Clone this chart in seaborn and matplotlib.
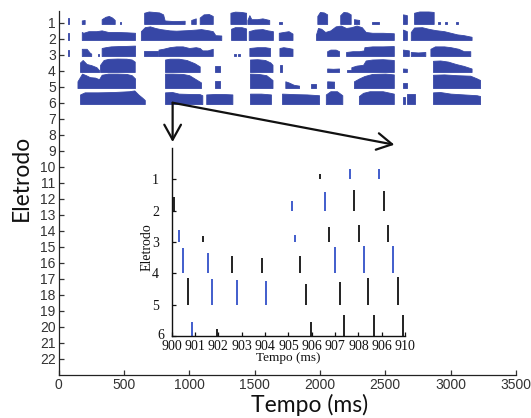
import matplotlib
matplotlib.use("Agg")
import matplotlib.pyplot as plt
import matplotlib.transforms as mtransforms
import numpy as np
import seaborn as sns

# envelope of the spike raster per electrode: segments of (time ms, height in row units)
row1 = [
    [(70, 0.35), (82, 0.35)],
    [(178, 0.22), (200, 0.25)],
    [(330, 0.3), (360, 0.45), (385, 0.5), (410, 0.4), (430, 0.25)],
    [(470, 0.1), (480, 0.1)],
    [(655, 0.7), (690, 0.78), (730, 0.75), (770, 0.72), (800, 0.6), (812, 0.22), (880, 0.18), (965, 0.2)],
    [(1015, 0.25), (1050, 0.35)],
    [(1080, 0.4), (1110, 0.6), (1150, 0.62), (1180, 0.5)],
    [(1315, 0.7), (1350, 0.77), (1400, 0.75), (1435, 0.7)],
    [(1445, 0.25), (1460, 0.55), (1475, 0.3), (1520, 0.3), (1560, 0.35), (1612, 0.25)],
    [(1690, 0.15), (1710, 0.15)],
    [(1980, 0.5), (2000, 0.75), (2030, 0.72), (2055, 0.6)],
    [(2155, 0.55), (2180, 0.75), (2210, 0.72), (2235, 0.6)],
    [(2260, 0.3), (2300, 0.25)],
    [(2400, 0.12), (2450, 0.12)],
    [(2635, 0.6), (2665, 0.55)],
    [(2720, 0.7), (2760, 0.78), (2830, 0.78), (2870, 0.75)],
    [(2900, 0.12), (2915, 0.12)],
    [(2960, 0.1), (2975, 0.1)],
    [(3040, 0.1), (3055, 0.1)],
]
row2 = [
    [(70, 0.45), (82, 0.45)],
    [(178, 0.5), (190, 0.45), (230, 0.55), (290, 0.55), (330, 0.6), (380, 0.5), (450, 0.5), (520, 0.48), (585, 0.45)],
    [(630, 0.55), (660, 0.8), (700, 0.85), (740, 0.75), (780, 0.68), (850, 0.6), (900, 0.58), (950, 0.6),
     (1000, 0.62), (1050, 0.65), (1090, 0.68), (1150, 0.6), (1180, 0.55), (1200, 0.3), (1245, 0.28)],
    [(1320, 0.7), (1350, 0.8), (1400, 0.8), (1435, 0.72)],
    [(1455, 0.55), (1500, 0.65), (1560, 0.68), (1600, 0.6), (1640, 0.55)],
    [(1685, 0.45), (1720, 0.5), (1760, 0.55), (1790, 0.4)],
    [(1970, 0.35), (1985, 0.75), (2010, 0.7), (2040, 0.5), (2080, 0.6), (2120, 0.85), (2160, 0.9), (2200, 0.75),
     (2240, 0.8), (2280, 0.9), (2320, 0.8), (2350, 0.5), (2400, 0.45), (2480, 0.45), (2565, 0.42)],
    [(2635, 0.65), (2665, 0.55)],
    [(2695, 0.5), (2720, 0.78), (2780, 0.8), (2830, 0.7), (2880, 0.62), (2950, 0.55), (3000, 0.45),
     (3050, 0.35), (3100, 0.3), (3160, 0.2)],
]
row3 = [
    [(70, 0.35), (82, 0.35)],
    [(178, 0.45), (215, 0.45), (240, 0.2), (250, 0.15)],
    [(300, 0.1), (310, 0.1)],
    [(330, 0.5), (360, 0.55), (400, 0.6), (460, 0.62), (520, 0.63), (585, 0.65)],
    [(655, 0.3), (700, 0.3), (760, 0.3)],
    [(765, 0.4), (800, 0.45), (850, 0.55), (900, 0.6), (950, 0.6), (1000, 0.5), (1050, 0.55), (1080, 0.5),
     (1100, 0.35), (1140, 0.35), (1180, 0.45)],
    [(1345, 0.1), (1355, 0.1)],
    [(1375, 0.1), (1385, 0.1)],
    [(1460, 0.5), (1520, 0.55), (1580, 0.55), (1618, 0.5)],
    [(1690, 0.5), (1720, 0.55), (1760, 0.5), (1790, 0.45)],
    [(2055, 0.3), (2080, 0.4), (2120, 0.4), (2146, 0.3)],
    [(2200, 0.25), (2250, 0.3), (2300, 0.3), (2336, 0.35), (2340, 0.55), (2400, 0.6), (2480, 0.6), (2565, 0.62)],
    [(2635, 0.4), (2680, 0.35)],
    [(2695, 0.25), (2750, 0.22), (2806, 0.25)],
    [(2845, 0.45), (2880, 0.6), (2950, 0.6), (3000, 0.55), (3060, 0.45), (3100, 0.3), (3150, 0.3)],
]
row4 = [
    [(165, 0.6), (185, 0.75), (215, 0.5), (250, 0.43), (290, 0.3), (310, 0.12)],
    [(318, 0.45), (345, 0.75), (380, 0.82), (450, 0.84), (520, 0.83), (560, 0.78), (583, 0.65)],
    [(815, 0.78), (850, 0.83), (920, 0.83), (980, 0.75), (1040, 0.55), (1080, 0.35)],
    [(1200, 0.4), (1235, 0.4)],
    [(1465, 0.78), (1520, 0.8), (1580, 0.75), (1620, 0.6), (1637, 0.45)],
    [(1695, 0.45), (1709, 0.45)],
    [(2055, 0.22), (2100, 0.2), (2146, 0.22)],
    [(2207, 0.15), (2237, 0.15)],
    [(2240, 0.3), (2280, 0.4), (2330, 0.45), (2350, 0.72), (2400, 0.78), (2480, 0.8), (2565, 0.75)],
    [(2635, 0.22), (2665, 0.2)],
    [(2865, 0.7), (2920, 0.72), (2980, 0.65), (3040, 0.5), (3100, 0.38), (3160, 0.22)],
]
row5 = [
    [(145, 0.42), (180, 0.9), (210, 0.8), (240, 0.68), (280, 0.65), (310, 0.55), (330, 0.83), (380, 0.9),
     (450, 0.9), (520, 0.88), (560, 0.8), (585, 0.6)],
    [(815, 0.9), (870, 0.9), (950, 0.88), (1000, 0.8), (1040, 0.6), (1090, 0.35)],
    [(1200, 0.42), (1236, 0.42)],
    [(1465, 0.9), (1530, 0.88), (1590, 0.8), (1637, 0.5)],
    [(1735, 0.42), (1760, 0.35), (1800, 0.2), (1840, 0.15)],
    [(1930, 0.25), (1968, 0.25)],
    [(2055, 0.42), (2108, 0.4)],
    [(2260, 0.42), (2300, 0.6), (2340, 0.75), (2400, 0.88), (2500, 0.9), (2565, 0.85)],
    [(2635, 0.3), (2664, 0.3)],
    [(2865, 0.83), (2950, 0.85), (3050, 0.8), (3150, 0.77), (3200, 0.6), (3225, 0.5)],
]
row6 = [
    [(165, 0.6), (200, 0.73), (300, 0.73), (420, 0.75), (540, 0.8), (580, 0.85), (610, 0.6), (640, 0.4), (660, 0.25)],
    [(815, 0.73), (870, 0.75), (920, 0.65), (1000, 0.63), (1080, 0.62), (1100, 0.55)],
    [(1130, 0.6), (1200, 0.63), (1280, 0.62), (1330, 0.6)],
    [(1465, 0.65), (1550, 0.65), (1625, 0.6)],
    [(1710, 0.65), (1800, 0.62), (1900, 0.6), (1993, 0.55)],
    [(2045, 0.6), (2080, 0.8), (2130, 0.8), (2171, 0.55)],
    [(2298, 0.5), (2330, 0.7), (2380, 0.8), (2480, 0.8), (2565, 0.65)],
    [(2633, 0.45), (2650, 0.45)],
    [(2664, 0.6), (2730, 0.6)],
    [(2865, 0.73), (2920, 0.75), (3000, 0.65), (3100, 0.6), (3200, 0.55), (3225, 0.5)],
]
raster_rows = [row1, row2, row3, row4, row5, row6]

electrodes = list(range(1, 23))
time_ticks = [0, 500, 1000, 1500, 2000, 2500, 3000, 3500]

# zoomed inset: single spikes between 900 and 910 ms
spike_time = [906.36, 907.64, 908.87,
              900.10, 905.16, 906.57, 907.83, 909.11,
              900.31, 901.36, 905.29, 906.76, 908.04, 909.29,
              900.50, 901.57, 902.59, 903.86, 905.51, 906.99, 908.23, 909.47,
              900.69, 901.74, 902.81, 904.06, 905.74, 907.20, 908.41, 909.69,
              900.89, 901.96, 905.97, 907.39, 908.69, 909.93]
spike_row = [1, 1, 1,
             2, 2, 2, 2, 2,
             3, 3, 3, 3, 3, 3,
             4, 4, 4, 4, 4, 4, 4, 4,
             5, 5, 5, 5, 5, 5, 5, 5,
             6, 6, 6, 6, 6, 6]
spike_top = [0.84, 0.68, 0.68,
             1.57, 1.69, 1.39, 1.34, 1.37,
             2.62, 2.80, 2.79, 2.51, 2.46, 2.46,
             3.18, 3.34, 3.45, 3.52, 3.44, 3.17, 3.13, 3.13,
             4.15, 4.19, 4.21, 4.26, 4.34, 4.27, 4.15, 4.11,
             5.54, 5.79, 5.54, 5.33, 5.33, 5.33]
spike_blue = [0, 1, 1,
              0, 1, 1, 0, 0,
              1, 0, 1, 0, 0, 0,
              1, 1, 0, 0, 0, 1, 1, 1,
              0, 1, 1, 1, 0, 0, 0, 0,
              1, 0, 0, 0, 0, 0]
inset_ticks = [900, 901, 902, 903, 904, 905, 906, 907, 908, 909, 910]
inset_tick_labels = ["900", "901", "902", "903", "904", "905", "906", "907", "908", "906", "910"]

sns.set_theme(style="ticks")
plt.rcParams["font.family"] = ["Liberation Sans", "DejaVu Sans"]
plt.rcParams["xtick.direction"] = "in"
plt.rcParams["ytick.direction"] = "in"

blue = "#3747a6"
spike_colors = {0: "#111111", 1: "#3350c8"}

fig = plt.figure(figsize=(5.31, 4.18), dpi=100)
ax = fig.add_axes([0.1102, 0.1029, 0.8616, 0.8708])

for r, segs in enumerate(raster_rows, start=1):
    base = r + 0.08
    for seg in segs:
        t = np.array([p[0] for p in seg])
        h = np.array([p[1] for p in seg])
        ax.fill_between(t, base, base - h, color=blue, edgecolor=blue, linewidth=0.6)

ax.set_xlim(0, 3500)
ax.set_ylim(23, 0.27)
ax.set_xticks(time_ticks)
ax.set_yticks(electrodes)
ax.tick_params(axis="both", labelsize=10, length=3.5, width=0.9, colors="#333333", pad=2)
for s in ["left", "bottom"]:
    ax.spines[s].set_linewidth(0.9)
    ax.spines[s].set_color("#222222")
sns.despine(ax=ax)

fig.text(21 / 531, 1 - 178 / 418, "Eletrodo", rotation=90, ha="center", va="center",
         fontsize=16.5, family="Lato", color="#111111")
fig.text(310 / 531, 1 - 405 / 418, "Tempo (ms)", ha="center", va="center",
         fontsize=16.5, family="Lato", color="#111111")

# arrows pointing from the raster to the zoomed view
arrow = dict(arrowstyle="->,head_length=0.9,head_width=0.5", lw=1.6, color="#111111",
             shrinkA=0, shrinkB=0)
ax.annotate("", xy=(873, 8.45), xytext=(873, 6.0), arrowprops=arrow, annotation_clip=False)
ax.annotate("", xy=(2569, 8.62), xytext=(873, 6.0), arrowprops=arrow, annotation_clip=False)

# inset
ins = fig.add_axes([0.3234, 0.1962, 0.4394, 0.4498])
ins.set_facecolor("none")
ins.vlines(spike_time, spike_row, spike_top,
           colors=[spike_colors[b] for b in spike_blue], linewidth=1.3)
ins.set_xlim(900, 910)
ins.set_ylim(6, 0)
ins.set_xticks(inset_ticks)
ins.set_xticklabels(inset_tick_labels)
ins.set_yticks([1, 2, 3, 4, 5, 6])
ins.tick_params(axis="both", labelsize=10, length=3, width=0.9, colors="#111111")
ins.tick_params(axis="x", pad=3)
ins.tick_params(axis="y", pad=9)
for lab in ins.get_xticklabels() + ins.get_yticklabels():
    lab.set_family("Liberation Serif")
# the last electrode label sits closer to the axis, right above "900"
six = ins.get_yticklabels()[-1]
six.set_transform(six.get_transform() + mtransforms.ScaledTranslation(5 / 100, 2 / 100, fig.dpi_scale_trans))
for s in ["left", "bottom"]:
    ins.spines[s].set_linewidth(1.0)
    ins.spines[s].set_color("#111111")
sns.despine(ax=ins)
fig.text(288 / 531, 1 - 358 / 418, "Tempo (ms)", ha="center", va="center",
         fontsize=9.5, family="Liberation Serif", color="#111111")
fig.text(147 / 531, 1 - 247 / 418, "Eletrodo", rotation=90, ha="center", va="center",
         fontsize=10, family="Liberation Serif", color="#111111")

fig.savefig("out.png", dpi=100)
